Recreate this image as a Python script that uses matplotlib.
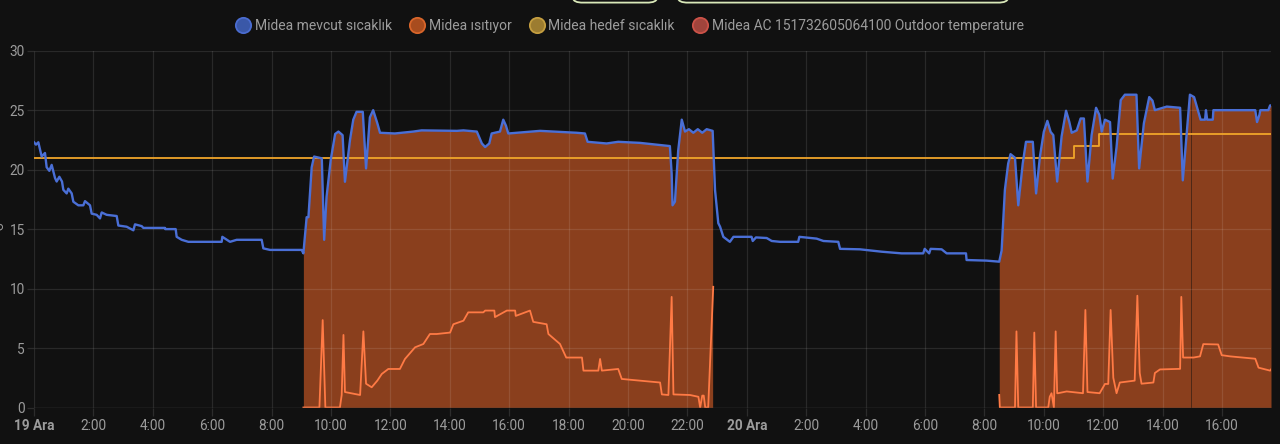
import matplotlib
matplotlib.use("Agg")
import matplotlib.pyplot as plt
from matplotlib.lines import Line2D
from matplotlib.transforms import IdentityTransform
import numpy as np

# ---- data (hours since 19 Ara 00:00) ----
cur_h = [0.0, 0.067, 0.146, 0.258, 0.37, 0.426, 0.516, 0.595, 0.707, 0.763, 0.853, 0.943, 0.988, 1.1, 1.156,
         1.269, 1.325, 1.493, 1.661, 1.717, 1.886, 1.942, 2.11, 2.222, 2.279, 2.447, 2.784, 2.84, 3.12, 3.345,
         3.401, 3.626, 3.682, 4.411, 4.42, 4.77, 4.804, 4.973, 5.197, 6.319, 6.341, 6.6, 6.824, 7.666, 7.722,
         7.946, 9.012, 9.07, 9.18, 9.24, 9.35, 9.43, 9.69, 9.77, 9.85, 9.99, 10.14, 10.25, 10.39, 10.47, 10.64,
         10.75, 10.86, 11.07, 11.18, 11.31, 11.42, 11.56, 11.65, 12.15, 12.77, 13.05, 14.24, 14.46, 14.91,
         15.08, 15.19, 15.33, 15.41, 15.69, 15.8, 15.89, 15.97, 17.04, 18.27, 18.55, 18.64, 19.28, 19.67,
         20.4, 21.41, 21.47, 21.5, 21.58, 21.69, 21.81, 21.92, 22.05, 22.2, 22.35, 22.5, 22.65, 22.85,
         22.93, 23.04, 23.1, 23.21, 23.43, 23.55, 24.16, 24.2, 24.31, 24.67, 24.84, 25.12, 25.73, 25.77,
         26.35, 26.58, 27.08, 27.14, 27.81, 28.54, 29.21, 29.94, 29.99, 30.14, 30.19, 30.56, 30.73, 31.38,
         31.4, 32.07, 32.5, 32.58, 32.69, 32.8, 32.88, 33.03, 33.14, 33.29, 33.4, 33.63, 33.74, 33.87, 34.0,
         34.12, 34.23, 34.32, 34.45, 34.6, 34.75, 34.86, 34.94, 35.11, 35.24, 35.35, 35.47, 35.61, 35.76,
         35.87, 35.95, 36.06, 36.23, 36.32, 36.45, 36.59, 36.73, 37.12, 37.21, 37.37, 37.55, 37.66, 37.74,
         38.14, 38.59, 38.68, 38.81, 38.92, 39.06, 39.2, 39.28, 39.43, 39.46, 39.5, 39.69, 39.71, 41.12,
         41.18, 41.26, 41.29, 41.56, 41.62, 41.65]
cur_v = [22.3, 22.1, 22.3, 21.1, 21.4, 20.2, 19.9, 20.4, 19.3, 19.0, 19.4, 19.0, 18.3, 18.0, 18.4,
         18.0, 17.3, 17.0, 17.0, 17.35, 17.0, 16.3, 16.2, 15.9, 16.4, 16.2, 16.1, 15.3, 15.2, 14.9,
         15.4, 15.25, 15.1, 15.1, 15.0, 15.0, 14.35, 14.1, 13.93, 13.93, 14.35, 13.93, 14.1, 14.1, 13.38,
         13.25, 13.25, 12.96, 16.0, 16.0, 20.2, 21.1, 20.95, 14.1, 17.7, 20.8, 23.0, 23.2, 22.9, 18.98, 22.5,
         24.2, 24.86, 24.86, 20.1, 24.4, 25.0, 23.9, 23.1, 23.04, 23.2, 23.3, 23.26, 23.3, 23.2,
         22.2, 21.9, 22.2, 23.04, 23.2, 24.2, 23.7, 23.04, 23.26, 23.1, 23.04, 22.34, 22.2, 22.34,
         22.25, 21.98, 19.68, 17.0, 17.3, 21.6, 24.2, 23.2, 23.4, 23.1, 23.4, 23.1, 23.4, 23.26,
         18.3, 15.5, 15.2, 14.35, 13.93, 14.35, 14.35, 14.0, 14.3, 14.25, 14.0, 13.93, 13.93, 14.35,
         14.2, 14.0, 13.93, 13.34, 13.3, 13.1, 12.96, 12.96, 13.34, 12.96, 13.34, 13.3, 12.96, 12.96,
         12.4, 12.35, 12.26, 13.2, 18.3, 20.5, 21.3, 21.0, 17.0, 20.5, 22.34, 22.34, 18.0, 21.1, 23.17,
         24.1, 23.17, 22.9, 19.0, 22.8, 24.95, 24.0, 23.1, 23.3, 24.3, 24.3, 19.0, 22.9, 25.2,
         24.6, 23.2, 24.2, 24.0, 19.25, 21.9, 25.84, 26.3, 26.3, 20.1, 23.9, 26.1, 25.8, 25.0,
         25.3, 25.2, 19.1, 23.0, 26.3, 26.1, 24.9, 24.2, 24.2, 25.0, 24.2, 24.2, 25.0, 25.0,
         24.0, 24.6, 25.0, 25.0, 25.4, 25.4]

target_h = [0.0, 35.01, 35.87, 41.65]
target_v = [21.0, 22.0, 23.0, 23.0]

heat_on = [9.07, 32.5, 38.97]
heat_off = [22.85, 38.955, 41.65]

out1_h = [9.07, 9.61, 9.72, 9.81, 10.3, 10.36, 10.42, 10.47, 10.98, 11.09, 11.18, 11.37, 11.56, 11.71,
          11.93, 12.32, 12.49, 12.83, 13.11, 13.33, 13.56, 14.01, 14.12, 14.46, 14.62, 15.13, 15.19,
          15.5, 15.52, 15.92, 16.2, 16.22, 16.7, 16.81, 17.26, 17.32, 17.71, 17.92, 18.45, 18.5, 19.0,
          19.06, 19.12, 19.67, 19.79, 21.08, 21.14, 21.36, 21.47, 21.53, 22.09, 22.37, 22.43, 22.5,
          22.55, 22.6, 22.7, 22.87]
out1_v = [0.0, 0.0, 7.35, 0.0, 0.0, 1.05, 6.1, 1.3, 1.05, 6.4, 2.0, 1.7, 2.26, 2.82,
          3.24, 3.24, 4.08, 5.06, 5.34, 6.18, 6.18, 6.3, 7.0, 7.3, 8.0, 8.0, 8.15,
          8.15, 7.6, 8.15, 8.15, 7.7, 8.15, 7.2, 7.0, 6.18, 5.34, 4.2, 4.2, 3.1, 3.1,
          4.08, 3.1, 3.24, 2.4, 2.1, 1.1, 1.05, 9.3, 1.1, 1.05, 0.9, 0.0, 1.0,
          1.0, 0.0, 0.0, 10.15]
out2_h = [32.5, 32.52, 33.03, 33.08, 33.14, 33.63, 33.68, 33.74, 34.15, 34.2, 34.26, 34.34, 34.4,
          34.45, 34.48, 34.77, 35.32, 35.4, 35.47, 35.88, 36.06, 36.17, 36.25, 36.34, 36.45, 36.56,
          37.06, 37.15, 37.23, 37.29, 37.69, 37.74, 37.91, 38.59, 38.63, 38.69, 39.04, 39.26, 39.37,
          39.87, 39.99, 40.27, 41.12, 41.23, 41.62, 41.65]
out2_v = [1.06, 0.0, 0.0, 6.4, 0.0, 0.0, 6.3, 0.0, 0.0, 0.9, 1.2, 0.0, 6.4,
          1.2, 1.2, 1.35, 1.2, 8.2, 1.3, 1.2, 1.98, 1.98, 8.2, 2.5, 1.2, 2.1,
          2.26, 9.4, 2.9, 2.0, 2.1, 2.9, 3.2, 3.25, 9.3, 4.2, 4.2, 4.3, 5.33,
          5.3, 4.4, 4.3, 4.1, 3.35, 3.1, 3.2]

y_ticks = [0, 5, 10, 15, 20, 25, 30]
x_ticks = [0, 2, 4, 6, 8, 10, 12, 14, 16, 18, 20, 22, 24, 26, 28, 30, 32, 34, 36, 38, 40]
x_labels = ["19 Ara", "2:00", "4:00", "6:00", "8:00", "10:00", "12:00", "14:00", "16:00", "18:00",
            "20:00", "22:00", "20 Ara", "2:00", "4:00", "6:00", "8:00", "10:00", "12:00", "14:00", "16:00"]

legend_labels = ["Midea mevcut sıcaklık", "Midea ısıtıyor", "Midea hedef sıcaklık",
                 "Midea AC 151732605064100 Outdoor temperature"]

# ---- style ----
BG = "#111111"
C_CUR = "#4a6fd6"
C_FILL = "#8a3f1d"
C_TGT = "#f0a52a"
C_OUT = "#ff7a45"
TXT = "#9c9c9c"
GRID = "#2c2c2c"

plt.rcParams['font.family'] = ['Roboto', 'DejaVu Sans']

W, H = 1280, 444
fig = plt.figure(figsize=(12.8, 4.44), dpi=100, facecolor=BG)
ax = fig.add_axes([34 / W, 1 - 407.5 / H, (1271 - 34) / W, (407.5 - 50.7) / H], facecolor=BG)

ch = np.array(cur_h)
cv = np.array(cur_v)

# heating fill, following the current temperature
for on, off in zip(heat_on, heat_off):
    grid = np.linspace(on, off, 600)
    grid = np.unique(np.concatenate([grid, ch[(ch >= on) & (ch <= off)]]))
    top = np.interp(grid, ch, cv)
    ax.fill_between(grid, 0, top, color=C_FILL, lw=0, zorder=2)

ax.plot(out1_h, out1_v, color=C_OUT, lw=1.3, zorder=3)
ax.plot(out2_h, out2_v, color=C_OUT, lw=1.3, zorder=3)
ax.step(target_h, target_v, where="post", color=C_TGT, lw=1.3, zorder=4)
ax.plot(cur_h, cur_v, color=C_CUR, lw=1.7, zorder=5)

ax.set_xlim(0, 41.65)
ax.set_ylim(0, 30)
ax.set_yticks(y_ticks)
ax.set_yticklabels([str(t) for t in y_ticks])
ax.set_xticks(x_ticks)
ax.set_xticklabels(x_labels)
for lbl, txt in zip(ax.get_xticklabels(), x_labels):
    if "Ara" in txt:
        lbl.set_fontweight("bold")

ax.grid(True, color="#ffffff", alpha=0.10, lw=0.9, zorder=6)
ax.set_axisbelow(False)
ax.tick_params(axis="y", colors=GRID, labelcolor=TXT, labelsize=9.8, length=5, width=0.9, pad=1.5)
ax.tick_params(axis="x", colors=GRID, labelcolor=TXT, labelsize=9.8, length=6, width=0.9, pad=2)
for s in ax.spines.values():
    s.set_visible(False)
ax.axhline(0, color="#3a3a3a", lw=1.0, zorder=6)

# cut off y label at left edge (as in the reference)
fig.text(0.0, 1 - 228 / H, "°C", color=TXT, fontsize=9, rotation=90, ha="center", va="center")

# legend
mk = dict(ls="none", marker="o", markersize=11, markeredgewidth=1.3)
handles = [
    Line2D([], [], markerfacecolor="#3a58a8", markeredgecolor="#4a6cd0", **mk),
    Line2D([], [], markerfacecolor="#a84c1e", markeredgecolor="#d8652a", **mk),
    Line2D([], [], markerfacecolor="#9c7c30", markeredgecolor="#c49e40", **mk),
    Line2D([], [], markerfacecolor="#a0443c", markeredgecolor="#cc5248", **mk),
]
fig.legend(handles, legend_labels, loc="center", bbox_to_anchor=(630 / W, 1 - 26 / H), ncol=4,
           frameon=False, fontsize=10.0, labelcolor=TXT, handletextpad=0.35, columnspacing=1.3,
           handlelength=1.0, borderaxespad=0)

# cut-off UI elements at the very top (bottoms of rounded boxes)
for x0, x1 in [(573, 657), (678, 1008)]:
    xs = [x0, x0 + 1.5, x0 + 4, x0 + 8, x1 - 8, x1 - 4, x1 - 1.5, x1]
    ys_img = [-1, 0.8, 2.0, 2.6, 2.6, 2.0, 0.8, -1]
    fig.add_artist(Line2D(xs, [H - y for y in ys_img], transform=IdentityTransform(),
                          color="#d9e8b8", lw=1.3, solid_capstyle="butt"))

fig.savefig("out.png", dpi=100, facecolor=BG)
